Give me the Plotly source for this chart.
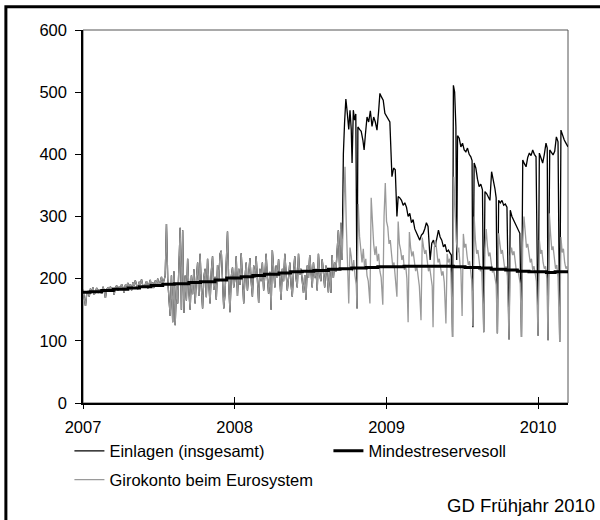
import pandas as pd
import plotly.graph_objects as go

FONT = "Liberation Sans, Arial, sans-serif"
GREY = "#9a9a9a"
START = pd.Timestamp("2007-01-01")

# Girokonto beim Eurosystem (Mrd. Euro), day offsets from 2007-01-01
GIRO_DAYS = [
    0, 3, 6, 9, 12, 15, 18, 21, 24, 27, 30, 33, 36, 39, 42, 45, 48, 51, 54, 57,
    60, 63, 66, 69, 72, 75, 78, 81, 84, 87, 90, 93, 96, 99, 102, 105, 108, 111, 114, 117,
    120, 123, 126, 129, 132, 135, 138, 141, 144, 147, 150, 153, 156, 159, 162, 165, 168, 171, 174, 177,
    180, 183, 186, 189, 192, 195, 198, 201, 204, 207, 210, 213, 216, 219, 222, 225, 228, 231, 234, 237,
    240, 243, 246, 249, 252, 255, 258, 261, 264, 267, 270, 273, 276, 279, 282, 285, 288, 291, 294, 297,
    300, 303, 306, 309, 312, 315, 318, 321, 324, 327, 330, 333, 336, 339, 342, 345, 348, 351, 354, 357,
    360, 363, 366, 369, 372, 375, 378, 381, 384, 387, 390, 393, 396, 399, 402, 405, 408, 411, 414, 417,
    420, 423, 426, 429, 432, 435, 438, 441, 444, 447, 450, 453, 456, 459, 462, 465, 468, 471, 474, 477,
    480, 483, 486, 489, 492, 495, 498, 501, 504, 507, 510, 513, 516, 519, 522, 525, 528, 531, 534, 537,
    540, 543, 546, 549, 552, 555, 558, 561, 564, 567, 570, 573, 576, 579, 582, 585, 588, 591, 594, 597,
    600, 603, 606, 609, 612, 615, 618, 621,
]
GIRO_VALS = [
    182, 168, 156, 176, 180, 171, 184, 178, 186, 174, 181, 185, 177, 183, 180, 176, 187, 181, 169, 183,
    185, 179, 187, 182, 185, 174, 186, 189, 181, 187, 184, 191, 186, 177, 190, 187, 193, 185, 191, 181,
    194, 189, 197, 187, 183, 195, 191, 199, 189, 186, 193, 196, 184, 192, 198, 188, 194, 185, 197, 191,
    200, 188, 195, 203, 190, 197, 205, 288, 200, 168, 140, 205, 130, 212, 125, 190, 160, 220, 282, 150,
    278, 145, 205, 165, 232, 180, 150, 205, 175, 215, 160, 198, 226, 172, 240, 186, 152, 202, 216, 170,
    232, 191, 160, 212, 236, 182, 203, 166, 222, 196, 240, 245, 202, 152, 176, 232, 276, 192, 146, 203,
    218, 186, 200, 236, 172, 216, 190, 241, 206, 160, 201, 226, 181, 211, 233, 196, 171, 221, 201, 236,
    186, 161, 216, 196, 226, 181, 206, 240, 201, 176, 211, 150, 246, 206, 186, 221, 201, 231, 191, 166,
    216, 196, 240, 211, 181, 201, 226, 191, 171, 211, 236, 201, 186, 240, 206, 216, 191, 177, 206, 166,
    221, 201, 238, 211, 186, 226, 201, 216, 181, 240, 206, 196, 231, 211, 186, 221, 206, 178, 216, 177,
    238, 201, 226, 211, 250, 278, 215, 290,
]

# from the start of the crisis on
GIRO_DAYS_LATE = [
    624, 628, 631, 634, 637, 640, 643, 646, 649, 652, 655, 658, 660,
    663, 666, 669, 672, 675, 678, 681, 684, 687, 691,
    694, 697, 700, 703, 706, 709, 712, 715, 718, 722,
    725, 728, 731, 734, 737, 740, 743, 746, 749, 752, 756,
    759, 762, 765, 768, 771, 774, 777, 780, 783,
    786, 789, 792, 795, 798, 801, 804, 807, 810, 814,
    817, 820, 823, 826, 829, 832, 835, 838, 841, 843,
    846, 849, 852, 855, 858, 861, 864, 867, 870, 874,
    877, 880, 883, 886, 890,
    893, 896, 899, 902, 905, 908, 910, 913,
    916, 919, 922, 925, 928, 931, 934, 936, 939,
    942, 945, 948, 951, 954, 957, 960, 965,
    968, 971, 974, 977, 980, 983, 986, 989, 992, 995, 998,
    1001, 1004, 1007, 1010, 1013, 1016, 1019, 1022, 1026,
    1029, 1032, 1035, 1038, 1041, 1044, 1047, 1050, 1053, 1056,
    1059, 1062, 1065, 1068, 1071, 1074, 1077, 1080, 1083, 1086, 1089, 1092, 1096,
    1099, 1102, 1105, 1108, 1111, 1114, 1117, 1120,
    1123, 1126, 1129, 1132, 1135, 1138, 1141, 1144, 1148,
    1151, 1154, 1157, 1160, 1163, 1166, 1168,
]
GIRO_VALS_LATE = [
    230, 326, 380, 290, 230, 160, 250, 236, 212, 230, 205, 190, 152,
    320, 268, 242, 226, 248, 218, 232, 205, 196, 160,
    330, 288, 256, 238, 252, 228, 240, 212, 202, 158,
    300, 354, 292, 283, 256, 262, 232, 218, 226, 205, 171,
    292, 256, 246, 230, 238, 214, 222, 200, 130,
    275, 250, 236, 244, 224, 212, 220, 198, 188, 133,
    266, 251, 240, 246, 224, 212, 218, 198, 188, 122,
    250, 262, 240, 226, 232, 214, 205, 212, 194, 128,
    240, 226, 232, 210, 106,
    364, 300, 262, 242, 250, 222, 214, 140,
    272, 250, 256, 236, 222, 228, 208, 198, 124,
    300, 262, 240, 246, 226, 212, 218, 114,
    248, 280, 252, 236, 242, 220, 210, 214, 198, 190, 112,
    273, 256, 240, 246, 226, 214, 220, 204, 102,
    236, 250, 238, 244, 222, 210, 215, 200, 192, 106,
    258, 300, 272, 250, 256, 236, 226, 232, 214, 220, 204, 196, 108,
    262, 240, 246, 226, 216, 220, 200, 101,
    305, 272, 246, 252, 230, 216, 222, 202, 98,
    267, 242, 248, 226, 216, 220, 208,
]

# Einlagen (insgesamt): equal to the current account until autumn 2008
EINL_DAYS_LATE = [
    624, 627, 630, 633, 636, 640, 643, 646, 648, 651, 654, 657, 660, 662, 666, 670, 674, 677, 680, 684,
    688, 692, 696, 700, 704, 708, 712, 715, 719, 723, 727, 731, 735, 739, 744, 748, 752, 756, 759, 763,
    767, 771, 775, 779, 783, 787, 791, 795, 799, 803, 807, 811, 815, 819, 823, 827, 831, 836, 840, 844,
    848, 852, 856, 860, 864, 868, 872, 876, 880, 884, 887, 890, 892, 895, 898, 900, 902, 906, 910, 914,
    918, 922, 926, 930, 934, 937, 939, 942, 946, 950, 954, 958, 962, 965, 968, 972, 976, 980, 984, 988,
    992, 995, 998, 1001, 1005, 1009, 1013, 1017, 1021, 1026, 1029, 1033, 1037, 1041, 1045, 1049, 1052, 1056, 1059, 1063,
    1067, 1071, 1075, 1079, 1083, 1087, 1091, 1096, 1099, 1103, 1107, 1111, 1115, 1118, 1120, 1124, 1128, 1132, 1136, 1140,
    1144, 1148, 1151, 1155, 1159, 1163, 1166, 1168,
]
EINL_VALS_LATE = [
    230, 400, 452, 489, 470, 440, 471, 440, 386, 471, 455, 465, 152, 444, 440, 437, 423, 407, 431, 460,
    452, 470, 445, 460, 452, 439, 470, 498, 492, 487, 466, 462, 458, 452, 364, 378, 375, 300, 332, 330,
    326, 318, 322, 315, 300, 305, 290, 295, 280, 273, 268, 262, 270, 273, 280, 290, 284, 230, 257, 262,
    251, 268, 278, 267, 262, 251, 255, 243, 246, 241, 238, 106, 511, 500, 444, 230, 430, 426, 412, 418,
    407, 404, 410, 400, 396, 390, 122, 386, 378, 360, 348, 352, 343, 114, 340, 337, 330, 326, 372, 359,
    345, 330, 112, 326, 322, 326, 318, 320, 315, 102, 310, 300, 294, 290, 283, 278, 273, 106, 391, 385,
    380, 395, 402, 398, 407, 400, 396, 108, 402, 394, 386, 400, 418, 410, 101, 407, 402, 399, 405, 428,
    420, 98, 439, 430, 423, 418, 415, 412,
]

# Mindestreservesoll per maintenance period (step)
SOLL_DAYS = [
    0, 17, 45, 73, 108, 136, 164, 192, 220, 255, 283, 318, 346, 381, 409, 437, 472, 500, 528, 556,
    591, 619, 647, 682, 710, 752, 773, 801, 829, 864, 892, 920, 955, 983, 1018, 1046, 1074, 1116, 1137, 1168,
]
SOLL_VALS = [
    178, 179, 181, 183, 185, 187, 189, 191, 192, 194, 195, 198, 201, 203, 205, 207, 209, 211, 212, 213,
    215, 216, 217, 218, 219, 219, 220, 220, 220, 220, 219, 218, 217, 215, 214, 212, 211, 210, 211, 211,
]

YEAR_TICKS = ["2007-01-01", "2008-01-01", "2009-01-01", "2010-01-01"]
YEAR_LABELS = ["2007", "2008", "2009", "2010"]
X_RANGE = ["2007-01-01", "2010-03-14"]


def to_dates(days):
    return START + pd.to_timedelta(days, unit="D")


giro_x = to_dates(GIRO_DAYS + GIRO_DAYS_LATE)
giro_y = GIRO_VALS + GIRO_VALS_LATE
einl_x = to_dates(GIRO_DAYS + EINL_DAYS_LATE)
einl_y = GIRO_VALS + EINL_VALS_LATE

fig = go.Figure()
fig.add_trace(go.Scatter(
    x=einl_x, y=einl_y, mode="lines", name="Einlagen (insgesamt)",
    line=dict(color="black", width=1.3), legend="legend",
))
fig.add_trace(go.Scatter(
    x=giro_x, y=giro_y, mode="lines", name="Girokonto beim Eurosystem",
    line=dict(color=GREY, width=1.3), legend="legend2",
))
fig.add_trace(go.Scatter(
    x=to_dates(SOLL_DAYS), y=SOLL_VALS, mode="lines", name="Mindestreservesoll",
    line=dict(color="black", width=3, shape="hv"), legend="legend",
))
# overlay axis, only for the upper half of the year ticks
fig.add_trace(go.Scatter(x=[YEAR_TICKS[0]], y=[0], xaxis="x2", mode="markers",
                         marker=dict(opacity=0), showlegend=False, hoverinfo="skip"))

legend_common = dict(
    orientation="h", xanchor="left", yanchor="middle",
    entrywidth=214, entrywidthmode="pixels", traceorder="normal",
    font=dict(size=16.5), bgcolor="rgba(0,0,0,0)",
)

fig.update_layout(
    width=600, height=520,
    margin=dict(l=83, r=32, t=30, b=117),
    paper_bgcolor="white", plot_bgcolor="white",
    font=dict(family=FONT, size=16.5, color="black"),
    showlegend=True,
    legend=dict(x=-0.028, y=-0.129, **legend_common),
    legend2=dict(x=-0.028, y=-0.206, **legend_common),
    xaxis=dict(
        type="date", range=X_RANGE,
        tickvals=YEAR_TICKS, ticktext=YEAR_LABELS,
        ticks="outside", ticklen=4, tickcolor="black", tickwidth=1.3,
        showline=True, linecolor="black", linewidth=1.5, showgrid=False, zeroline=False,
        ticklabelstandoff=4,
    ),
    xaxis2=dict(
        type="date", range=X_RANGE, overlaying="x",
        tickvals=YEAR_TICKS, ticks="inside", ticklen=6, tickcolor="black", tickwidth=1.3,
        showticklabels=False, showline=False, showgrid=False, zeroline=False,
    ),
    yaxis=dict(
        range=[0, 600], dtick=100, ticks="outside", ticklen=6,
        tickcolor="black", tickwidth=1.3, showline=True, linecolor="black", linewidth=1.5,
        showgrid=False, zeroline=False, ticklabelstandoff=5,
    ),
    shapes=[
        # top/right edge of the plot area
        dict(type="rect", xref="paper", yref="paper", x0=0, x1=1, y0=0, y1=1,
             line=dict(color="#555555", width=1), layer="below"),
        # outer frame of the graphic
        dict(type="rect", xref="paper", yref="paper", x0=-0.159, x1=1.2, y0=-0.5, y1=1.062,
             line=dict(color="black", width=3)),
    ],
    annotations=[dict(
        text="GD Frühjahr 2010", xref="paper", yref="paper", x=1.06, y=-0.274,
        xanchor="right", yanchor="middle", showarrow=False, font=dict(size=18.5),
    )],
)

# the page has a default 8px body margin; remove it so the figure sits at the window corner
fig.write_html("out.html", config={"displayModeBar": False},
               post_script="document.body.style.margin='0';")
